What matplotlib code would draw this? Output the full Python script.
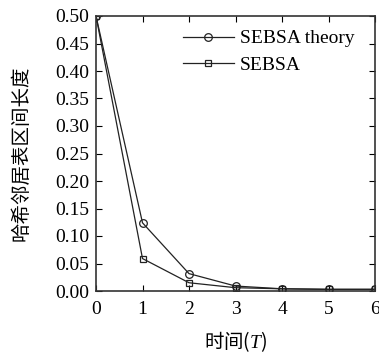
import numpy as np
import matplotlib.pyplot as plt

plt.rcParams['font.family'] = ['Liberation Serif', 'Noto Sans CJK SC']
plt.rcParams['mathtext.fontset'] = 'custom'
plt.rcParams['mathtext.it'] = 'Liberation Serif:italic'
plt.rcParams['mathtext.rm'] = 'Liberation Serif'

# 数据
t = [0, 1, 2, 3, 4, 5, 6]
theory = [0.5, 0.124, 0.0316, 0.009, 0.004, 0.003, 0.003]
sebsa = [0.5, 0.059, 0.015, 0.006, 0.004, 0.003, 0.003]

fig = plt.figure(figsize=(3.79, 3.58), dpi=100)
ax = fig.add_axes([96 / 379, 1 - 291 / 358, 279 / 379, 275 / 358])

ax.plot(t, theory, color='#222222', marker='o', mfc='none', ms=5.5, lw=0.9, mew=0.9,
        label='SEBSA theory')
ax.plot(t, sebsa, color='#222222', marker='s', mfc='none', ms=5, lw=0.9, mew=0.9,
        label='SEBSA')

ax.set_xlim(0, 6)
ax.set_ylim(0, 0.5)
ax.set_xticks(range(7))
ax.set_yticks(np.arange(0, 0.51, 0.05))
ax.set_yticklabels([f'{v:.2f}' for v in np.arange(0, 0.51, 0.05)])
ax.tick_params(direction='in', top=True, right=True, labelsize=14, length=4)
ax.tick_params(axis='x', pad=7)
ax.tick_params(axis='y', pad=5)
for s in ax.spines.values():
    s.set_linewidth(1.2)
    s.set_color('#333333')

ax.set_xlabel('时间($\\mathit{T}$)', fontsize=14, family=['Noto Sans CJK SC', 'Liberation Serif'])
ax.xaxis.set_label_coords(0.5, -38 / 275)
ax.set_ylabel('哈希邻居表区间长度', fontsize=14, family=['Noto Sans CJK SC'])
ax.yaxis.set_label_coords(-64 / 279, 0.5)

ax.legend(loc='upper right', frameon=False, fontsize=14, handlelength=2.6,
          borderaxespad=0.0, handletextpad=0.3, labelspacing=0.45,
          bbox_to_anchor=(266 / 279, 1 - 6 / 275))

fig.savefig('out.png', dpi=100)
